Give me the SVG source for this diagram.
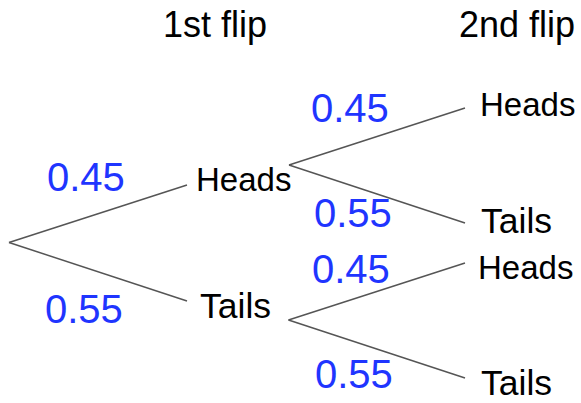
<svg xmlns="http://www.w3.org/2000/svg" width="581" height="403" viewBox="0 0 581 403">
<style>
.lbl{font-family:"Liberation Sans",Arial,sans-serif;fill:#000}
.hd{font-size:33px}
.tl{font-size:35.5px}
.ttl{font-family:"Liberation Sans",Arial,sans-serif;font-size:36px;fill:#000}
.p{font-family:"Liberation Sans",Arial,sans-serif;font-size:40px;fill:#1f35ff}
.e{stroke:#555;stroke-width:1.5;fill:none}
</style>
<rect width="581" height="403" fill="#fff"/>
<g id="headers">
<text class="ttl" x="163" y="37">1st flip</text>
<text class="ttl" x="459" y="37">2nd flip</text>
</g>
<g id="connectors">
<line class="e" x1="9" y1="242.5" x2="187" y2="185"/>
<line class="e" x1="9" y1="242.5" x2="187" y2="301"/>
<line class="e" x1="289" y1="165" x2="465" y2="108"/>
<line class="e" x1="289" y1="165" x2="465" y2="223"/>
<line class="e" x1="288.5" y1="320" x2="465" y2="263"/>
<line class="e" x1="288.5" y1="320" x2="465" y2="378"/>
</g>
<g id="probs">
<text class="p" x="47" y="191">0.45</text>
<text class="p" x="45" y="323">0.55</text>
<text class="p" x="311" y="122">0.45</text>
<text class="p" x="314" y="227">0.55</text>
<text class="p" x="312" y="283">0.45</text>
<text class="p" x="315" y="388">0.55</text>
</g>
<g id="n1-heads"><text class="lbl hd" x="196" y="191">Heads</text></g>
<g id="n1-tails"><text class="lbl tl" x="200" y="318">Tails</text></g>
<g id="n2-hh"><text class="lbl hd" x="480" y="116">Heads</text></g>
<g id="n2-ht"><text class="lbl tl" x="481" y="233">Tails</text></g>
<g id="n2-th"><text class="lbl hd" x="478" y="279">Heads</text></g>
<g id="n2-tt"><text class="lbl tl" x="481" y="395">Tails</text></g>
</svg>
